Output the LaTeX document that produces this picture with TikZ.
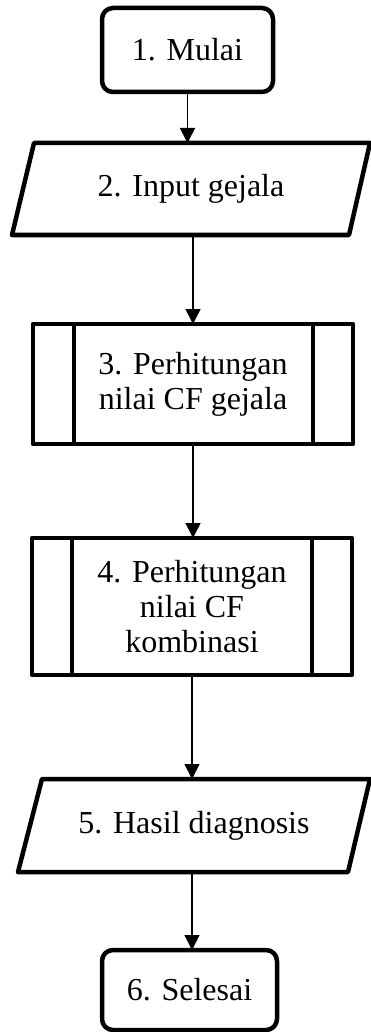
\documentclass[tikz,border=0pt]{standalone}
\usepackage{fontspec}
\setmainfont{Liberation Serif}
\usetikzlibrary{arrows.meta}
\begin{document}
\begin{tikzpicture}[x=1pt,y=-1pt,
  every node/.style={font=\fontsize{32}{35}\selectfont, align=center, outer sep=0pt},
  frame/.style={line width=4.5pt, line join=round},
  terminal/.style={frame, draw, rounded corners=11pt},
  procbox/.style={frame, draw, minimum width=320pt},
  ioframe/.style={inner sep=0pt, minimum height=93pt},
  flowline/.style={line width=1.7pt, -{Triangle[length=15pt,width=15pt]}}]
  \useasboundingbox (0,0) rectangle (371,1032);

  % start terminal
  \node[terminal, minimum width=171pt, minimum height=84pt] (mulai) at (187.5,50) {1. Mulai};

  % input parallelogram
  \node[ioframe, minimum width=358pt, minimum height=92pt] (inp) at (191,189) {2. Input gejala};
  \draw[frame] ([xshift=22pt]inp.north west) -- (inp.north east)
    -- ([xshift=-21pt]inp.south east) -- (inp.south west) -- cycle;

  % predefined process: CF per symptom
  \node[procbox, minimum height=120pt] (p3) at (193,384) {3. Perhitungan\\nilai CF gejala};
  \draw[frame] ([xshift=41pt]p3.north west) -- ([xshift=41pt]p3.south west);
  \draw[frame] ([xshift=-40pt]p3.north east) -- ([xshift=-40pt]p3.south east);

  % predefined process: combined CF
  \node[procbox, minimum height=137pt] (p4) at (192,606.5) {4. Perhitungan\\nilai CF\\kombinasi};
  \draw[frame] ([xshift=40pt]p4.north west) -- ([xshift=40pt]p4.south west);
  \draw[frame] ([xshift=-40pt]p4.north east) -- ([xshift=-40pt]p4.south east);

  % output parallelogram
  \node[ioframe, minimum width=352pt] (out) at (194,825.5) {5. Hasil diagnosis};
  \draw[frame] ([xshift=24pt]out.north west) -- (out.north east)
    -- ([xshift=-22pt]out.south east) -- (out.south west) -- cycle;

  % end terminal
  \node[terminal, minimum width=175pt, minimum height=80pt] (fin) at (189.5,990) {6. Selesai};

  % connectors
  \draw[flowline] (mulai.south) -- (mulai.south |- inp.north);
  \draw[flowline] (p3.north |- inp.south) -- (p3.north);
  \draw[flowline] (p3.south) -- (p3.south |- p4.north);
  \draw[flowline] (p4.south) -- (p4.south |- out.north);
  \draw[flowline] (p4.south |- out.south) -- (p4.south |- fin.north);
\end{tikzpicture}
\end{document}
